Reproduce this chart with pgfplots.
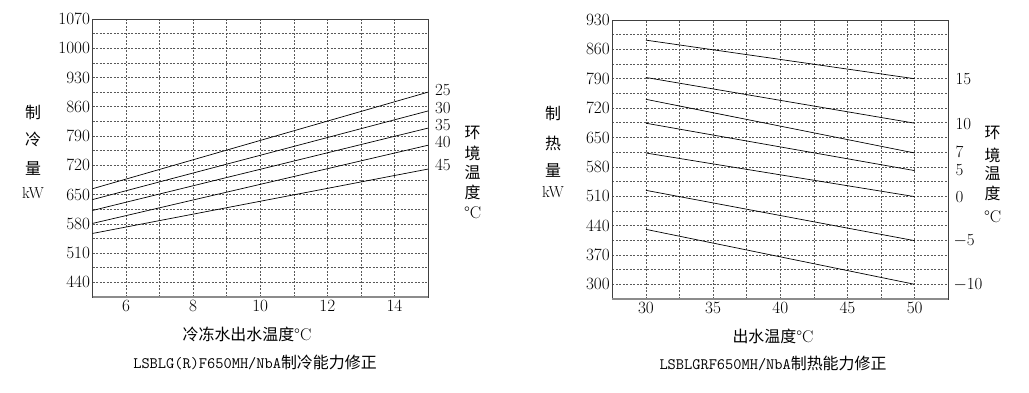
\documentclass[border=0pt]{standalone}
\usepackage{fontspec}
\usepackage{pgfplots}
\pgfplotsset{compat=1.18}
\newfontfamily\cjk{Noto Sans CJK SC}
\newcommand{\fs}{\fontsize{16}{18}\selectfont}
\newcommand{\fn}{\fontsize{17}{19}\selectfont}
\pgfplotsset{
  myax/.style={
    scale only axis, anchor=south west, clip=false,
    grid=both,
    major grid style={black!65, line width=0.6bp, dash pattern=on 2bp off 1.5bp},
    minor grid style={black!65, line width=0.6bp, dash pattern=on 2bp off 1.5bp},
    major tick length=0pt, minor tick length=0pt,
    minor x tick num=1, minor y tick num=1,
    axis line style={black!75, line width=0.8bp},
    ticklabel style={font=\fn},
    /pgf/number format/1000 sep={},
    yticklabel style={xshift=1bp},
  },
}
\begin{document}
\begin{tikzpicture}
\path[use as bounding box] (0,0) rectangle (1029bp,-393bp);
% ---------------- cooling ----------------
\begin{axis}[myax, at={(92.5bp,-297bp)}, width=335.5bp, height=278bp,
  xmin=5, xmax=15, ymin=405, ymax=1070,
  xtick={6,8,10,12,14}, ytick={440,510,580,650,720,790,860,930,1000,1070}]
\addplot[black, line width=0.7bp] coordinates {(5,664) (15,895)};
\addplot[black, line width=0.7bp] coordinates {(5,638) (15,850)};
\addplot[black, line width=0.7bp] coordinates {(5,612) (15,809)};
\addplot[black, line width=0.7bp] coordinates {(5,581) (15,768)};
\addplot[black, line width=0.7bp] coordinates {(5,557) (15,711)};
\draw[black!45, line width=2bp] (rel axis cs:0,0) -- (rel axis cs:1,0);
\node[anchor=west, inner sep=0pt, font=\fn, xshift=7bp] at (axis cs:15,899) {25};
\node[anchor=west, inner sep=0pt, font=\fn, xshift=7bp] at (axis cs:15,858) {30};
\node[anchor=west, inner sep=0pt, font=\fn, xshift=7bp] at (axis cs:15,817) {35};
\node[anchor=west, inner sep=0pt, font=\fn, xshift=7bp] at (axis cs:15,777) {40};
\node[anchor=west, inner sep=0pt, font=\fn, xshift=7bp] at (axis cs:15,720) {45};
\end{axis}
\node[font=\fs\cjk] at (33bp,-112bp) {制};
\node[font=\fs\cjk] at (33bp,-139bp) {冷};
\node[font=\fs\cjk] at (33bp,-168bp) {量};
\node[font=\fs] at (33bp,-193bp) {kW};
\node[font=\fs\cjk] at (472.7bp,-133bp) {环};
\node[font=\fs\cjk] at (472.7bp,-153bp) {境};
\node[font=\fs\cjk] at (472.7bp,-172bp) {温};
\node[font=\fs\cjk] at (472.7bp,-192bp) {度};
\node[font=\fn] at (472.7bp,-213bp) {°C};
\node[font=\fs] at (247bp,-334bp) {{\cjk 冷冻水出水温度}{\fn °C}};
\node[font=\fs] at (255bp,-362.7bp) {{\ttfamily LSBLG(R)F650MH/NbA}{\cjk 制冷能力修正}};
% ---------------- heating ----------------
\begin{axis}[myax, at={(612.3bp,-299bp)}, width=336bp, height=279bp,
  xmin=27.5, xmax=52.5, ymin=265, ymax=930,
  xtick={30,35,40,45,50}, ytick={300,370,440,510,580,650,720,790,860,930}]
\addplot[black, line width=0.7bp] coordinates {(30,882) (50,790)};
\addplot[black, line width=0.7bp] coordinates {(30,793) (50,684)};
\addplot[black, line width=0.7bp] coordinates {(30,741) (50,613)};
\addplot[black, line width=0.7bp] coordinates {(30,684) (50,571)};
\addplot[black, line width=0.7bp] coordinates {(30,613) (50,509)};
\addplot[black, line width=0.7bp] coordinates {(30,524) (50,404)};
\addplot[black, line width=0.7bp] coordinates {(30,431) (50,300)};
\draw[black!45, line width=2bp] (rel axis cs:0,0) -- (rel axis cs:1,0);
\node[anchor=west, inner sep=0pt, font=\fn, xshift=7bp] at (axis cs:52.5,790) {15};
\node[anchor=west, inner sep=0pt, font=\fn, xshift=7bp] at (axis cs:52.5,682) {10};
\node[anchor=west, inner sep=0pt, font=\fn, xshift=7bp] at (axis cs:52.5,616) {7};
\node[anchor=west, inner sep=0pt, font=\fn, xshift=7bp] at (axis cs:52.5,572) {5};
\node[anchor=west, inner sep=0pt, font=\fn, xshift=7bp] at (axis cs:52.5,508) {0};
\node[anchor=west, inner sep=0pt, font=\fn, xshift=5bp] at (axis cs:52.5,403) {$-$5};
\node[anchor=west, inner sep=0pt, font=\fn, xshift=5bp] at (axis cs:52.5,299) {$-$10};
\end{axis}
\node[font=\fs\cjk] at (553bp,-113bp) {制};
\node[font=\fs\cjk] at (553bp,-143bp) {热};
\node[font=\fs\cjk] at (553bp,-170bp) {量};
\node[font=\fs] at (553bp,-192bp) {kW};
\node[font=\fs\cjk] at (992.7bp,-133bp) {环};
\node[font=\fs\cjk] at (992.7bp,-155bp) {境};
\node[font=\fs\cjk] at (992.7bp,-173bp) {温};
\node[font=\fs\cjk] at (992.7bp,-193bp) {度};
\node[font=\fn] at (992.7bp,-216.7bp) {°C};
\node[font=\fs] at (773bp,-336.7bp) {{\cjk 出水温度}{\fn °C}};
\node[font=\fs] at (773bp,-363bp) {{\ttfamily LSBLGRF650MH/NbA}{\cjk 制热能力修正}};
\end{tikzpicture}
\end{document}
